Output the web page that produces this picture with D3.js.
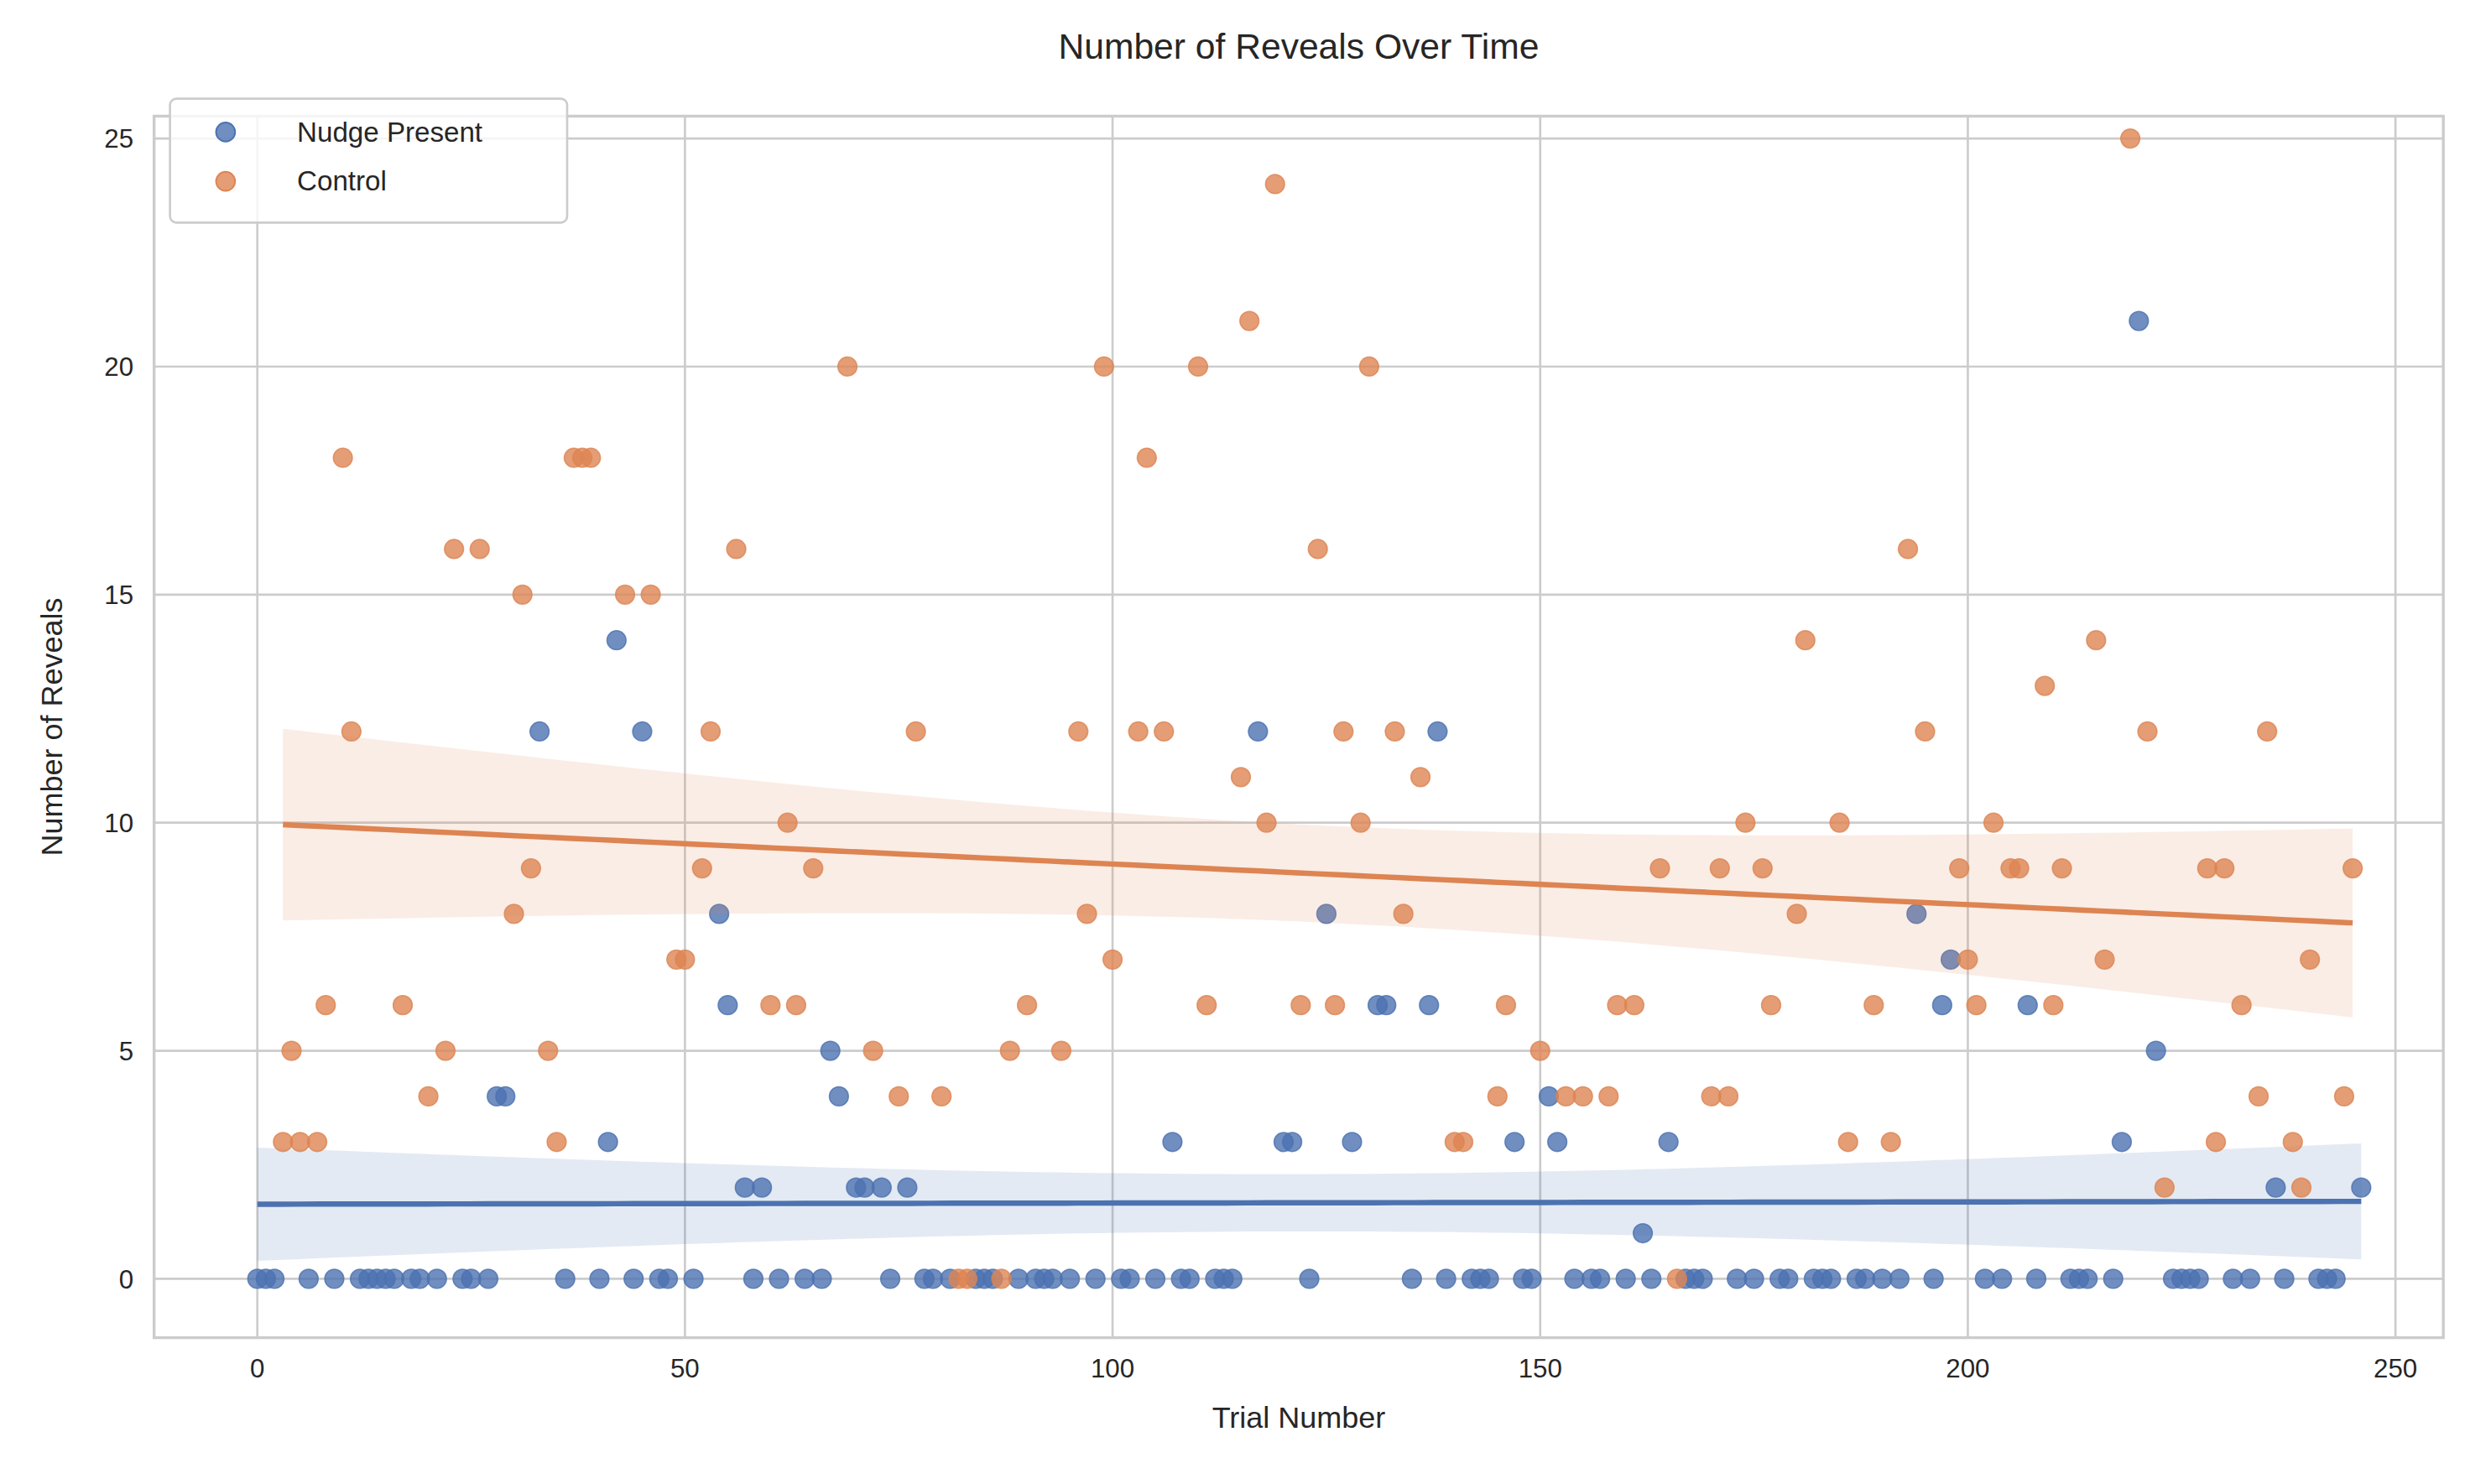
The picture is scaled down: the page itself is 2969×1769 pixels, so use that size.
<!DOCTYPE html>
<html>
<head>
<meta charset="utf-8">
<script src="https://cdn.jsdelivr.net/npm/d3@7"></script>
<style>
  body { margin: 0; background: #fff; }
  text { font-family: Arial, "Liberation Sans", sans-serif; fill: #262626; }
</style>
</head>
<body>
<svg id="chart" width="2969" height="1769" viewBox="0 0 1568 934"></svg>
<script>
// control trials and values
const controlTrials = [3,4,5,7,8,10,11,17,20,22,23,26,30,31,32,34,35,37,38,39,43,46,49,50,52,53,56,60,62,63,65,69,72,75,77,80,82,83,87,88,90,94,96,97,99,100,103,104,106,110,111,115,116,118,119,122,124,126,127,129,130,133,134,136,140,141,145,146,150,153,155,158,159,161,164,166,170,171,172,174,176,177,180,181,185,186,189,191,193,195,199,200,201,203,205,206,209,210,211,215,216,219,221,223,228,229,230,232,234,235,238,239,240,244,245];
const controlValues = [3,5,3,3,6,18,12,6,4,5,16,16,8,15,9,5,3,18,18,18,15,15,7,7,9,12,16,6,10,6,9,20,5,4,12,4,0,0,0,5,6,5,12,8,20,7,12,18,12,20,6,11,21,10,24,6,16,6,12,10,20,12,8,11,3,3,4,6,5,4,4,4,6,6,9,0,4,9,4,10,9,6,8,14,10,3,6,3,16,12,9,7,6,10,9,9,13,6,9,14,7,25,12,2,9,3,9,6,4,12,3,2,7,4,9];

// nudge trials with non-zero reveals
const nudgeTrials = [28,29,33,41,42,45,54,55,57,59,67,68,70,71,73,76,107,117,120,121,125,128,131,132,137,138,147,151,152,162,165,194,197,198,207,218,220,222,236,246];
const nudgeValues = [4,4,12,3,14,12,8,6,2,2,5,4,2,2,2,2,3,12,3,3,8,3,6,6,6,12,3,4,3,1,3,8,6,7,6,3,21,5,2,2];
// nudge trials with zero reveals
const nudgeZeroTrials = [0,1,2,6,9,12,13,14,15,16,18,19,21,24,25,27,36,40,44,47,48,51,58,61,64,66,74,78,79,81,84,85,86,89,91,92,93,95,98,101,102,105,108,109,112,113,114,123,135,139,142,143,144,148,149,154,156,157,160,163,167,168,169,173,175,178,179,182,183,184,187,188,190,192,196,202,204,208,212,213,214,217,224,225,226,227,231,233,237,241,242,243];

const xTicks = [0,50,100,150,200,250];
const yTicks = [0,5,10,15,20,25];

const nudge = nudgeTrials.map((t,i) => ({x:t, y:nudgeValues[i]}))
  .concat(nudgeZeroTrials.map(t => ({x:t, y:0})))
  .sort((a,b) => a.x - b.x);
const control = controlTrials.map((t,i) => ({x:t, y:controlValues[i]}));

const svg = d3.select("#chart");
const L = 97, R = 1538, T = 73, B = 842;

const x = d3.scaleLinear().domain([-12.07, 255.6]).range([L, R]);
const y = d3.scaleLinear().domain([-1.29, 25.49]).range([B, T]);

// grid
svg.append("g").selectAll("line").data(xTicks).join("line")
  .attr("x1", d => x(d)).attr("x2", d => x(d)).attr("y1", T).attr("y2", B)
  .attr("stroke", "#cccccc").attr("stroke-width", 1.4);
svg.append("g").selectAll("line").data(yTicks).join("line")
  .attr("x1", L).attr("x2", R).attr("y1", d => y(d)).attr("y2", d => y(d))
  .attr("stroke", "#cccccc").attr("stroke-width", 1.4);

// linear fit with 95% confidence band
function fit(data) {
  const n = data.length;
  const mx = d3.mean(data, d => d.x), my = d3.mean(data, d => d.y);
  const sxx = d3.sum(data, d => (d.x - mx) ** 2);
  const b = d3.sum(data, d => (d.x - mx) * (d.y - my)) / sxx;
  const a = my - b * mx;
  const s = Math.sqrt(d3.sum(data, d => (d.y - a - b * d.x) ** 2) / (n - 2));
  const [x0, x1] = d3.extent(data, d => d.x);
  return d3.range(0, 101).map(i => {
    const xv = x0 + (x1 - x0) * i / 100;
    const se = s * Math.sqrt(1 / n + (xv - mx) ** 2 / sxx);
    const yv = a + b * xv;
    return {x: xv, y: yv, lo: yv - 2.1 * se, hi: yv + 2.1 * se};
  });
}

const series = [
  {name: "Nudge Present", data: nudge, color: "#4c72b0"},
  {name: "Control", data: control, color: "#dd8452"}
];

series.forEach(s => {
  const pts = fit(s.data);
  svg.append("path").datum(pts)
    .attr("d", d3.area().x(d => x(d.x)).y0(d => y(d.lo)).y1(d => y(d.hi)))
    .attr("fill", s.color).attr("fill-opacity", 0.15);
  svg.append("g").selectAll("circle").data(s.data).join("circle")
    .attr("cx", d => x(d.x)).attr("cy", d => y(d.y)).attr("r", 6)
    .attr("fill", s.color).attr("fill-opacity", 0.8)
    .attr("stroke", s.color).attr("stroke-opacity", 0.8).attr("stroke-width", 0.8);
  svg.append("path").datum(pts)
    .attr("d", d3.line().x(d => x(d.x)).y(d => y(d.y)))
    .attr("fill", "none").attr("stroke", s.color).attr("stroke-width", 3.4);
});

// frame
svg.append("rect").attr("x", L).attr("y", T).attr("width", R - L).attr("height", B - T)
  .attr("fill", "none").attr("stroke", "#cccccc").attr("stroke-width", 1.8);

// tick labels
svg.append("g").selectAll("text").data(xTicks).join("text")
  .attr("x", d => x(d)).attr("y", B + 25).attr("text-anchor", "middle")
  .attr("font-size", 16.5).text(d => d);
svg.append("g").selectAll("text").data(yTicks).join("text")
  .attr("x", L - 13).attr("y", d => y(d) + 6).attr("text-anchor", "end")
  .attr("font-size", 16.5).text(d => d);

// labels and title
svg.append("text").attr("x", (L + R) / 2).attr("y", B + 57).attr("text-anchor", "middle")
  .attr("font-size", 19).text("Trial Number");
svg.append("text").attr("transform", `translate(39, ${(T + B) / 2}) rotate(-90)`)
  .attr("text-anchor", "middle").attr("font-size", 19).text("Number of Reveals");
svg.append("text").attr("x", (L + R) / 2).attr("y", 37).attr("text-anchor", "middle")
  .attr("font-size", 22.5).text("Number of Reveals Over Time");

// legend
const lg = svg.append("g");
lg.append("rect").attr("x", 107).attr("y", 62).attr("width", 250).attr("height", 78)
  .attr("rx", 4).attr("fill", "#fff").attr("fill-opacity", 0.8)
  .attr("stroke", "#cccccc").attr("stroke-width", 1.4);
series.forEach((s, i) => {
  const cy = 83 + i * 31;
  lg.append("circle").attr("cx", 142).attr("cy", cy).attr("r", 6)
    .attr("fill", s.color).attr("fill-opacity", 0.8).attr("stroke", s.color);
  lg.append("text").attr("x", 187).attr("y", cy + 6).attr("font-size", 17.5).text(s.name);
});
</script>
</body>
</html>
